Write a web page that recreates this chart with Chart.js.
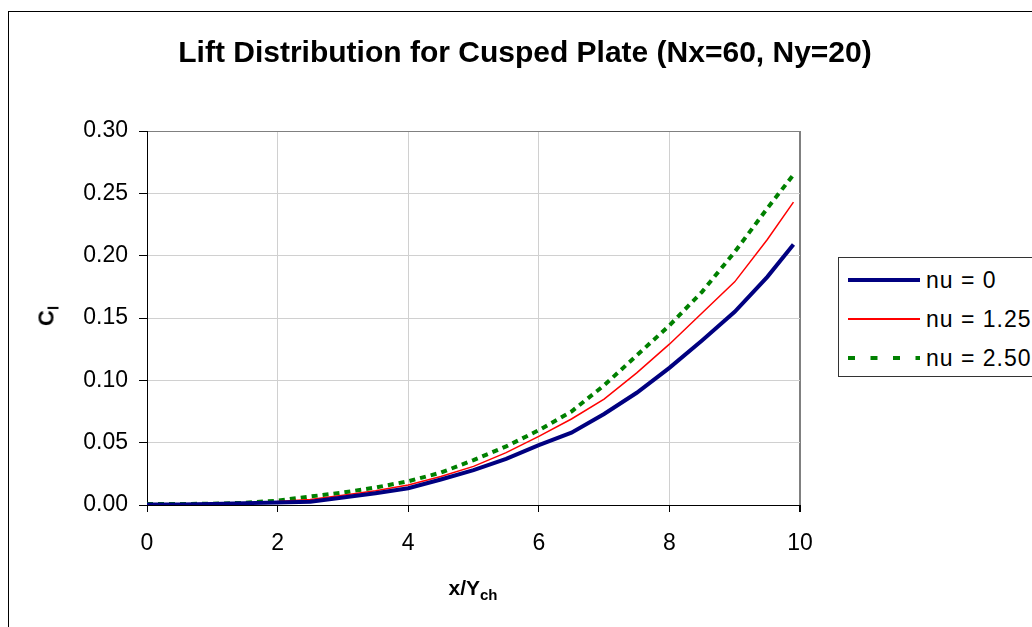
<!DOCTYPE html>
<html>
<head>
<meta charset="utf-8">
<script src="https://cdn.jsdelivr.net/npm/chart.js@4/dist/chart.umd.min.js"></script>
<style>
  html, body { margin: 0; padding: 0; background: #fff; }
  #wrap { position: relative; width: 1032px; height: 627px; overflow: hidden; font-family: "Liberation Sans", Arial, sans-serif; }
  #frame { position: absolute; left: 8px; top: 11px; width: 1100px; height: 700px; border: 1px solid #000; box-sizing: border-box; }
  canvas { position: absolute; left: 0; top: 0; }
  .txt { position: absolute; white-space: nowrap; color: #000; }
  #title { left: 525px; top: 37px; transform: translateX(-50%); font-weight: bold; font-size: 30px; line-height: 30px; }
  #xtitle { left: 473px; top: 577px; transform: translateX(-50%); font-weight: bold; font-size: 21px; line-height: 21px; }
  #xtitle sub, #ytitle sub { font-size: 15px; vertical-align: -5px; }
  #ytitle { left: 50px; top: 316px; transform: translate(-50%, -50%) rotate(-90deg); font-weight: bold; font-size: 22px; line-height: 22px; }
  #legend { position: absolute; left: 838px; top: 257px; width: 260px; height: 120px; border: 1px solid #333; box-sizing: border-box; background: #fff; }
  .row { position: absolute; left: 8px; height: 30px; }
  .row svg { position: absolute; left: 0; top: 0; }
  .row span { position: absolute; left: 79px; top: 3px; font-size: 23px; line-height: 24px; letter-spacing: 1px; white-space: nowrap; }
</style>
</head>
<body>
<div id="wrap">
  <div id="frame"></div>
  <canvas id="c" width="1032" height="627"></canvas>
  <div class="txt" id="title">Lift Distribution for Cusped Plate (Nx=60, Ny=20)</div>
  <div class="txt" id="xtitle">x/Y<sub>ch</sub></div>
  <div class="txt" id="ytitle">C<sub>l</sub></div>
  <div id="legend"></div>
</div>
<script>
// ---- data ----
const xValues  = [0, 0.5, 1, 1.5, 2, 2.5, 3, 3.5, 4, 4.5, 5, 5.5, 6, 6.5, 7, 7.5, 8, 8.5, 9, 9.5, 9.9];
const nu0      = [0.0005, 0.0005, 0.0008, 0.0015, 0.002, 0.0026, 0.006, 0.0095, 0.0135, 0.0205, 0.028, 0.037, 0.048, 0.058, 0.073, 0.090, 0.110, 0.132, 0.155, 0.183, 0.209];
const nu125    = [0.0005, 0.0006, 0.001, 0.0017, 0.0028, 0.0045, 0.0078, 0.0115, 0.016, 0.0228, 0.031, 0.042, 0.055, 0.069, 0.085, 0.106, 0.129, 0.154, 0.179, 0.213, 0.243];
const nu250    = [0.0008, 0.0008, 0.001, 0.0018, 0.0035, 0.0068, 0.0100, 0.014, 0.019, 0.026, 0.036, 0.047, 0.060, 0.075, 0.096, 0.120, 0.144, 0.171, 0.203, 0.238, 0.265];
const seriesNames = ["nu = 0", "nu = 1.25", "nu = 2.50"];
const xTicks = [0, 2, 4, 6, 8, 10];
const yTicks = [0, 0.05, 0.10, 0.15, 0.20, 0.25, 0.30];

const styles = [
  { color: "#000080", width: 4, dash: [] },
  { color: "#ff0000", width: 1.5, dash: [] },
  { color: "#008000", width: 4, dash: [6, 5] }
];

function toPoints(ys) { return xValues.map((x, i) => ({ x: x, y: ys[i] })); }
const allSeries = [nu0, nu125, nu250];

const datasets = allSeries.map((ys, i) => ({
  label: seriesNames[i],
  data: toPoints(ys),
  borderColor: styles[i].color,
  borderWidth: styles[i].width,
  borderDash: styles[i].dash,
  pointRadius: 0,
  tension: 0,
  fill: false
}));

const tickFont = { family: "'Liberation Sans', Arial, sans-serif", size: 23 };

new Chart(document.getElementById("c"), {
  type: "line",
  data: { datasets: datasets },
  options: {
    responsive: false,
    animation: false,
    layout: { padding: { left: 0, top: 131, right: 232, bottom: 0 } },
    plugins: { legend: { display: false }, title: { display: false }, tooltip: { enabled: false } },
    scales: {
      x: {
        type: "linear",
        min: 0, max: 10,
        afterBuildTicks: s => { s.ticks = xTicks.map(v => ({ value: v })); },
        afterFit: s => { s.height = 122; },
        ticks: { font: tickFont, color: "#000", padding: 18, maxRotation: 0, autoSkip: false },
        grid: {
          color: ctx => (ctx.tick && ctx.tick.value === 10) ? "#808080" : "#d0d0d0",
          lineWidth: ctx => (ctx.tick && ctx.tick.value === 10) ? 2 : 1,
          tickColor: "#000",
          tickLength: 7,
          drawTicks: true
        },
        border: { display: true, color: "#000", width: 1 }
      },
      y: {
        type: "linear",
        min: 0, max: 0.30,
        afterBuildTicks: s => { s.ticks = yTicks.map(v => ({ value: v })); },
        afterFit: s => { s.width = 147; },
        ticks: { font: tickFont, color: "#000", padding: 11, callback: v => Number(v).toFixed(2) },
        grid: {
          color: ctx => (ctx.tick && Math.abs(ctx.tick.value - 0.30) < 1e-9) ? "#808080" : "#d0d0d0",
          tickColor: "#000",
          tickLength: 8
        },
        border: { display: true, color: "#000", width: 1 }
      }
    }
  }
});

// HTML legend with line samples
const legend = document.getElementById("legend");
const rowTops = [7, 46, 85];
seriesNames.forEach((name, i) => {
  const row = document.createElement("div");
  row.className = "row";
  row.style.top = rowTops[i] + "px";
  const st = styles[i];
  const dash = st.dash.length ? 'stroke-dasharray="7 15.5"' : "";
  row.innerHTML = '<svg width="76" height="30"><line x1="1" y1="15" x2="73" y2="15" stroke="' + st.color +
    '" stroke-width="' + (i === 1 ? 2 : 4) + '" ' + dash + ' stroke-linecap="butt"/></svg><span>' + name + '</span>';
  legend.appendChild(row);
});
</script>
</body>
</html>
